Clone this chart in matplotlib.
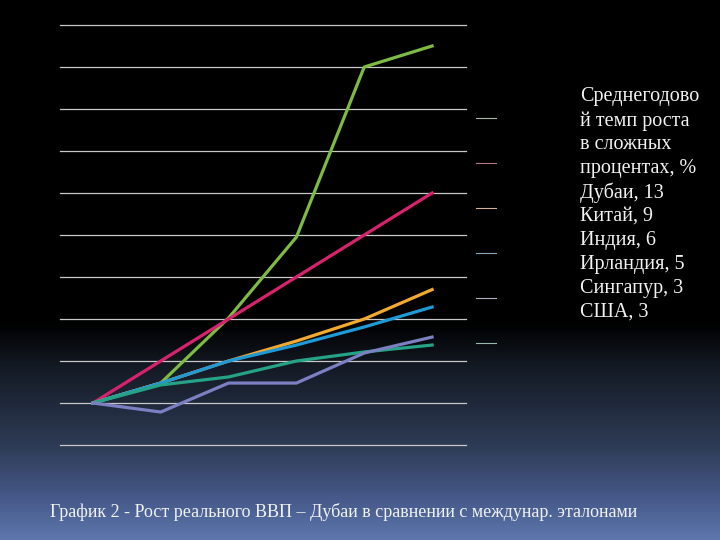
import numpy as np
import matplotlib.pyplot as plt
from matplotlib.colors import LinearSegmentedColormap

years = [0, 1, 2, 3, 4, 5]
dubai = [100, 109.5, 140.5, 179, 260, 270]
china = [100, 120, 140, 160, 180, 200]
india = [100, 109.5, 120, 129.5, 140, 154]
ireland = [100, 109.5, 120, 127.6, 136.2, 145.7]
singapore = [100, 108.6, 112.4, 120, 124.3, 127.6]
usa = [100, 95.7, 109.5, 109.5, 123.8, 131.4]

legend_lines = [
    "Среднегодово",
    "й темп роста",
    "в сложных",
    "процентах, %",
    "Дубаи, 13",
    "Китай, 9",
    "Индия, 6",
    "Ирландия, 5",
    "Сингапур, 3",
    "США, 3",
]
marker_colors = ["#a8b8a8", "#b87888", "#d0b098", "#88a8c0", "#b0b0c0", "#98b8b0"]

fig = plt.figure(figsize=(7.2, 5.4), dpi=100)

# background: black fading to blue at the bottom
bg = fig.add_axes([0, 0, 1, 1])
bg_cmap = LinearSegmentedColormap.from_list(
    "bg", [(0, "#000000"), (0.6, "#000000"), (0.68, "#141a24"),
           (0.74, "#1e2738"), (0.833, "#2f3d58"), (0.926, "#46598a"),
           (1, "#5c76ac")])
grad = np.linspace(0, 1, 540).reshape(-1, 1)
bg.imshow(grad, aspect="auto", cmap=bg_cmap, extent=[0, 1, 1, 0])
bg.set_xlim(0, 1)
bg.set_ylim(1, 0)
bg.axis("off")

ax = fig.add_axes([60 / 720, 1 - 445 / 540, 406 / 720, 420 / 540])
ax.patch.set_alpha(0)
for v in range(80, 300, 20):
    ax.axhline(v, color="#c8c8c8", lw=0.9, zorder=1, clip_on=False)

ax.plot(years, dubai, color="#7dbb42", lw=2.3, zorder=3)
ax.plot(years, china, color="#d9226d", lw=2.3, zorder=3)
ax.plot(years, india, color="#f2a92e", lw=2.3, zorder=3)
ax.plot(years, ireland, color="#1f9ad6", lw=2.3, zorder=3)
ax.plot(years, singapore, color="#26a386", lw=2.3, zorder=3)
ax.plot(years, usa, color="#7c80c2", lw=2.3, zorder=3)

ax.set_xlim(-0.485, 5.5)
ax.set_ylim(80, 280)
ax.set_xticks([])
ax.set_yticks([])
for s in ax.spines.values():
    s.set_visible(False)

# legend markers and text
for i, c in enumerate(marker_colors):
    y = (118 + i * 45) / 540
    bg.plot([476 / 720, 496 / 720], [y, y], color=c, lw=0.8)

for i, line in enumerate(legend_lines):
    fig.text(580 / 720, 1 - (97 + i * 23.9) / 540, line, color="#f2f2f2",
             fontsize=14.5, family="Liberation Serif", va="center", ha="left")

fig.text(50 / 720, 1 - 512 / 540,
         "График 2 - Рост реального ВВП – Дубаи в сравнении с междунар. эталонами",
         color="#f2f2f2", fontsize=13, family="Liberation Serif",
         va="center", ha="left")

fig.savefig("out.png", dpi=100)
